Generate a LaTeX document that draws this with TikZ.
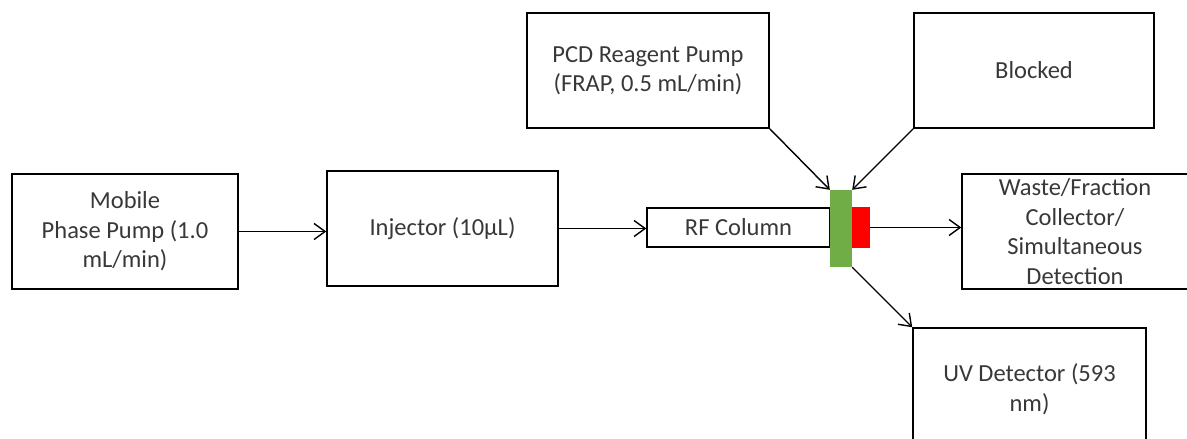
\documentclass[tikz,border=0pt]{standalone}
\usepackage{fontspec}
\setmainfont{Carlito}
\usetikzlibrary{arrows.meta}
\definecolor{txt}{HTML}{383838}
\definecolor{colgreen}{HTML}{70AD47}
\begin{document}
\begin{tikzpicture}[x=1pt,y=-1pt,
  box/.style={draw=black, line width=1.5pt, inner sep=0pt, align=center, text=txt,
    font=\fontsize{24.5}{29.5}\selectfont},
  flow/.style={draw=black, line width=1.4pt, -{Straight Barb[length=11pt,width=16pt,line width=1.4pt]}}]
\useasboundingbox (0,0) rectangle (1187,439);
\begin{scope}
\clip (0,0) rectangle (1187,439);
\node[box, minimum width=226pt, minimum height=115pt] (mob) at (125,231.5) {Mobile\\Phase Pump (1.0\\mL/min)};
\node[box, minimum width=231pt, minimum height=115pt] (inj) at (442.5,228.5) {Injector (10µL)};
\node[box, minimum width=183pt, minimum height=39pt] (rf) at (738.5,227.5) {RF Column};
\node[fill=colgreen, inner sep=0pt, minimum width=22pt, minimum height=77pt] (grn) at (841,228.5) {};
\node[fill=red, inner sep=0pt, minimum width=18pt, minimum height=41pt] (red) at (861,227.5) {};
\node[box, minimum width=242pt, minimum height=115pt] (pcd) at (648,70.5) {PCD Reagent Pump\\(FRAP, 0.5 mL/min)};
\node[box, minimum width=240pt, minimum height=115pt] (blk) at (1034,70.5) {Blocked};
\node[box, minimum width=226pt, minimum height=115pt] (wst) at (1075,231.5) {Waste/Fraction\\Collector/\\Simultaneous\\Detection};
\node[box, minimum width=233pt, minimum height=122pt] (uv) at (1029.5,389) {UV Detector (593\\nm)};
\draw[flow] (mob.east) -- (mob.east -| inj.west);
\draw[flow] (inj.east) -- (inj.east -| rf.west);
\draw[flow] (pcd.south east) -- (grn.north west);
\draw[flow] (blk.south west) -- (grn.north east);
\draw[flow] (red.east) -- (red.east -| wst.west);
\draw[flow] (grn.south east) -- (uv.north west);
\end{scope}
\end{tikzpicture}
\end{document}
